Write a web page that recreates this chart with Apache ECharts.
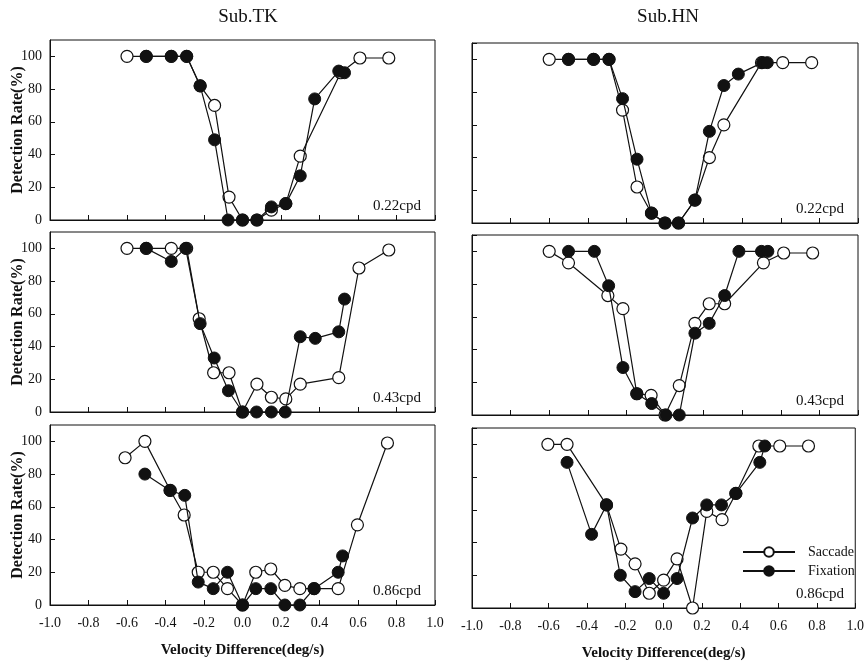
<!DOCTYPE html>
<html>
<head>
<meta charset="utf-8">
<script src="https://cdn.jsdelivr.net/npm/echarts@6/dist/echarts.min.js"></script>
<style>
html, body { margin: 0; padding: 0; background: #fff; }
#chart { width: 867px; height: 663px; }
</style>
</head>
<body>
<div id="chart"></div>
<script>
// data: [velocity difference (deg/s), detection rate (%)]
const subjects = ['Sub.TK', 'Sub.HN'];
const freqs = ['0.22cpd', '0.43cpd', '0.86cpd'];

const tk22Sac = [[-0.6,100],[-0.5,100],[-0.37,100],[-0.29,100],[-0.22,82],[-0.145,70],[-0.07,14],[0,0],[0.075,0],[0.15,6],[0.225,10],[0.30,39],[0.51,90],[0.61,99],[0.76,99]];
const tk22Fix = [[-0.5,100],[-0.37,100],[-0.29,100],[-0.22,82],[-0.145,49],[-0.075,0],[0,0],[0.075,0],[0.15,8],[0.225,10],[0.30,27],[0.375,74],[0.50,91],[0.53,90]];

const hn22Sac = [[-0.6,100],[-0.5,100],[-0.37,100],[-0.29,100],[-0.22,69],[-0.145,22],[-0.07,6],[0,0],[0.07,0],[0.155,14],[0.23,40],[0.305,60],[0.5,98],[0.61,98],[0.76,98]];
const hn22Fix = [[-0.5,100],[-0.37,100],[-0.29,100],[-0.22,76],[-0.145,39],[-0.07,6],[0,0],[0.07,0],[0.155,14],[0.23,56],[0.305,84],[0.38,91],[0.505,98],[0.53,98]];

const tk43Sac = [[-0.6,100],[-0.5,100],[-0.37,100],[-0.29,100],[-0.225,57],[-0.15,24],[-0.07,24],[0,0],[0.075,17],[0.15,9],[0.225,8],[0.30,17],[0.5,21],[0.605,88],[0.76,99]];
const tk43Fix = [[-0.5,100],[-0.37,92],[-0.295,100],[-0.22,54],[-0.147,33],[-0.073,13],[0,0],[0.073,0],[0.15,0],[0.222,0],[0.30,46],[0.378,45],[0.5,49],[0.53,69]];

const hn43Sac = [[-0.6,100],[-0.5,93],[-0.296,73],[-0.218,65],[-0.146,13],[-0.072,12],[0,0],[0.074,18],[0.155,56],[0.229,68],[0.309,68],[0.51,93],[0.615,99],[0.765,99]];
const hn43Fix = [[-0.5,100],[-0.366,100],[-0.292,79],[-0.218,29],[-0.146,13],[-0.069,7],[0.005,0],[0.074,0],[0.155,50],[0.229,56],[0.309,73],[0.383,100],[0.5,100],[0.533,100]];

const tk86Sac = [[-0.61,90],[-0.507,100],[-0.375,70],[-0.303,55],[-0.23,20],[-0.152,20],[-0.078,10],[0,0],[0.069,20],[0.147,22],[0.22,12],[0.298,10],[0.372,10],[0.497,10],[0.597,49],[0.753,99]];
const tk86Fix = [[-0.507,80],[-0.377,70],[-0.3,67],[-0.23,14],[-0.152,10],[-0.078,20],[0,0],[0.069,10],[0.147,10],[0.22,0],[0.298,0],[0.372,10],[0.497,20],[0.52,30]];

const hn86Sac = [[-0.604,100],[-0.504,100],[-0.298,63],[-0.223,36],[-0.149,27],[-0.075,9],[0,17],[0.07,30],[0.151,0],[0.225,59],[0.305,54],[0.377,70],[0.497,99],[0.606,99],[0.756,99]];
const hn86Fix = [[-0.504,89],[-0.376,45],[-0.298,63],[-0.226,20],[-0.149,10],[-0.075,18],[0,9],[0.07,18],[0.151,55],[0.225,63],[0.302,63],[0.377,70],[0.502,89],[0.528,99]];

const panelData = [
  [tk22Sac, tk22Fix], [hn22Sac, hn22Fix],
  [tk43Sac, tk43Fix], [hn43Sac, hn43Fix],
  [tk86Sac, tk86Fix], [hn86Sac, hn86Fix]
];

const serif = "'Liberation Serif', 'Times New Roman', serif";
const gridPos = [[50, 40], [472, 43], [50, 232], [472, 235], [50, 425], [472, 428]];
const gridW = [385, 386];
const gridH = 180;

const chart = echarts.init(document.getElementById('chart'));

const grids = [], xAxes = [], yAxes = [], series = [], titles = [];

gridPos.forEach((p, i) => {
  const col = i % 2;
  const row = Math.floor(i / 2);
  grids.push({
    left: p[0], top: p[1], width: gridW[col], height: gridH,
    show: true, borderColor: '#111', borderWidth: 1, backgroundColor: 'transparent'
  });
  xAxes.push({
    gridIndex: i, type: 'value', min: -1, max: 1, interval: 0.2,
    axisLine: { onZero: false, lineStyle: { color: '#111', width: 1 } },
    axisTick: { show: true, inside: true, length: 5, lineStyle: { color: '#111' } },
    splitLine: { show: false },
    axisLabel: {
      show: row === 2, margin: 11, color: '#111', fontFamily: serif, fontSize: 14,
      formatter: v => v.toFixed(1)
    },
    name: row === 2 ? 'Velocity Difference(deg/s)' : '',
    nameLocation: 'middle', nameGap: 38, nameMoveOverlap: false,
    nameTextStyle: { fontFamily: serif, fontSize: 15, fontWeight: 'bold', color: '#111' }
  });
  yAxes.push({
    gridIndex: i, type: 'value', min: 0, max: 110, interval: 20,
    axisLine: { onZero: false, lineStyle: { color: '#111', width: 1 } },
    axisTick: { show: true, inside: true, length: 5, lineStyle: { color: '#111' } },
    splitLine: { show: false },
    axisLabel: {
      show: col === 0, margin: 8, color: '#111', fontFamily: serif, fontSize: 14,
      showMaxLabel: false
    },
    name: col === 0 ? 'Detection Rate(%)' : '',
    nameLocation: 'middle', nameGap: 24, nameMoveOverlap: false,
    nameTextStyle: { fontFamily: serif, fontSize: 16, fontWeight: 'bold', color: '#111' }
  });
  const [sac, fix] = panelData[i];
  series.push({
    name: 'Saccade', type: 'line', xAxisIndex: i, yAxisIndex: i,
    data: sac, symbol: 'circle', symbolSize: 12, clip: false,
    lineStyle: { color: '#111', width: 1.2 },
    itemStyle: { color: '#fff', borderColor: '#111', borderWidth: 1.2 },
    z: 3
  });
  series.push({
    name: 'Fixation', type: 'line', xAxisIndex: i, yAxisIndex: i,
    data: fix, symbol: 'circle', symbolSize: 12, clip: false,
    lineStyle: { color: '#111', width: 1.2 },
    itemStyle: { color: '#111', borderColor: '#111', borderWidth: 1 },
    z: 4
  });
  titles.push({
    text: freqs[row],
    left: p[0] + gridW[col] - 67, top: p[1] + gridH - 26,
    textStyle: { fontFamily: serif, fontSize: 15, fontWeight: 'normal', color: '#111' }
  });
});

subjects.forEach((s, c) => {
  titles.push({
    text: s, left: c === 0 ? 243 : 663, top: 3, textAlign: 'center',
    textStyle: { fontFamily: serif, fontSize: 19, fontWeight: 'normal', color: '#111' }
  });
});

const option = {
  animation: false,
  title: titles,
  grid: grids,
  xAxis: xAxes,
  yAxis: yAxes,
  legend: {
    orient: 'vertical', left: 737, top: 540, itemWidth: 52, itemHeight: 12, itemGap: 5,
    data: ['Saccade', 'Fixation'],
    textStyle: { fontFamily: serif, fontSize: 14, color: '#111', padding: [0, 0, 0, 8] }
  },
  series: series
};

option && chart.setOption(option);
</script>
</body>
</html>
